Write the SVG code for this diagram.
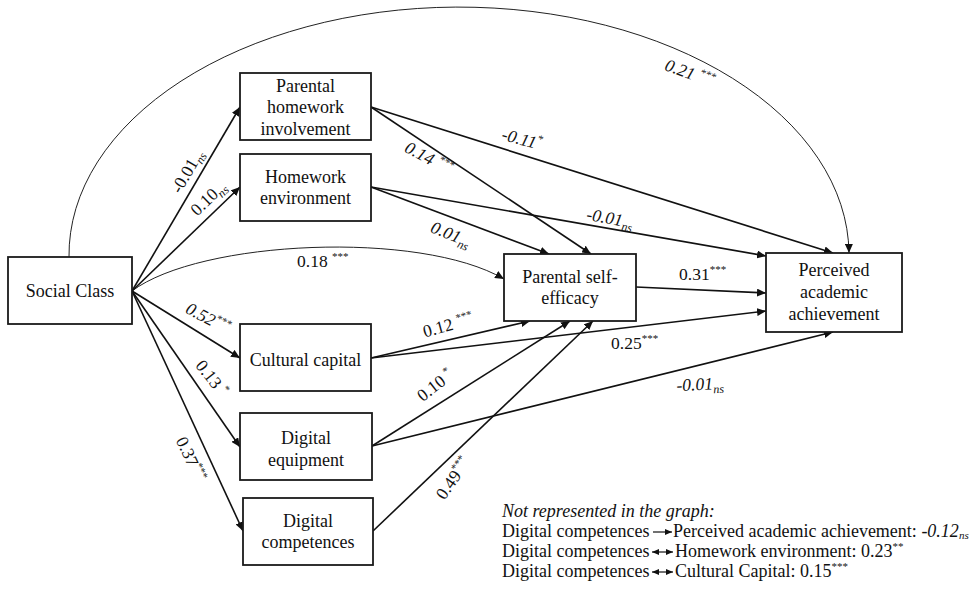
<svg xmlns="http://www.w3.org/2000/svg" width="974" height="593" viewBox="0 0 974 593">
<style>
  .box{fill:#fff;stroke:#1a1a1a;stroke-width:1.8}
  .nt{font-family:"Liberation Serif","Times New Roman",serif;font-size:18px;fill:#111;text-anchor:middle}
  .e{fill:none;stroke:#111;stroke-width:1.6;marker-end:url(#ah)}
  .c{fill:none;stroke:#222;stroke-width:1;marker-end:url(#ah)}
  .lb{font-family:"Liberation Serif","Times New Roman",serif;font-size:17.5px;fill:#111}
  .it{font-style:italic}
  .sup{font-size:11px}
  .sub{font-size:12px;font-style:italic}
  .lsub{font-size:11px;font-style:italic}
  .lg{font-family:"Liberation Serif","Times New Roman",serif;font-size:18px;fill:#111}
  .la{fill:none;stroke:#111;stroke-width:1.2}
</style>
<defs>
  <marker id="ah" markerUnits="userSpaceOnUse" markerWidth="10" markerHeight="8" refX="9" refY="4" orient="auto">
    <path d="M0,0 L9,4 L0,8 z" fill="#111"/>
  </marker>
  <marker id="sa" markerUnits="userSpaceOnUse" markerWidth="8" markerHeight="6" refX="7" refY="3" orient="auto">
    <path d="M0,0 L7,3 L0,6 z" fill="#111"/>
  </marker>
  <marker id="sb" markerUnits="userSpaceOnUse" markerWidth="8" markerHeight="6" refX="0" refY="3" orient="auto">
    <path d="M7,0 L0,3 L7,6 z" fill="#111"/>
  </marker>
</defs>

<g id="connectors">
  <path class="c" d="M69,257 A390,248 0 0 1 849,253"/>
  <path class="c" d="M132,291 C200,240 420,230 504,279"/>
  <line class="e" x1="132" y1="291" x2="240" y2="107"/>
  <line class="e" x1="132" y1="291" x2="240" y2="187"/>
  <line class="e" x1="132" y1="291" x2="240" y2="358"/>
  <line class="e" x1="132" y1="291" x2="240" y2="447"/>
  <line class="e" x1="132" y1="291" x2="243" y2="531"/>
  <line class="e" x1="371" y1="107" x2="591" y2="254"/>
  <line class="e" x1="371" y1="107" x2="833" y2="253"/>
  <line class="e" x1="371" y1="187" x2="549" y2="254"/>
  <line class="e" x1="371" y1="187" x2="766" y2="256"/>
  <line class="e" x1="636" y1="287" x2="766" y2="293"/>
  <line class="e" x1="371" y1="358" x2="530" y2="321"/>
  <line class="e" x1="371" y1="358" x2="766" y2="311"/>
  <line class="e" x1="372" y1="446" x2="570" y2="321"/>
  <line class="e" x1="372" y1="446" x2="833" y2="332"/>
  <line class="e" x1="373" y1="531" x2="593" y2="321"/>
</g>

<g id="edge-labels">
  <text class="lb" text-anchor="middle" transform="translate(187,171) rotate(-60)" y="6">-0.01<tspan class="sub" dy="4">ns</tspan></text>
  <text class="lb" text-anchor="middle" transform="translate(208,198) rotate(-44)" y="6">0.10<tspan class="sub" dy="4">ns</tspan></text>
  <text class="lb" x="297" y="267">0.18 <tspan class="sup" dy="-7">***</tspan></text>
  <text class="lb it" text-anchor="middle" transform="translate(208,318) rotate(28)" y="6">0.52<tspan class="sup" dy="-7">***</tspan></text>
  <text class="lb" text-anchor="middle" transform="translate(212,378) rotate(52)" y="6">0.13 <tspan class="sup" dy="-7">*</tspan></text>
  <text class="lb" text-anchor="middle" transform="translate(191,459) rotate(65)" y="6">0.37<tspan class="sup" dy="-7">***</tspan></text>
  <text class="lb it" text-anchor="middle" transform="translate(429,158) rotate(28)" y="6">0.14 <tspan class="sup" dy="-7">***</tspan></text>
  <text class="lb it" text-anchor="middle" transform="translate(522,139) rotate(15)" y="6">-0.11<tspan class="sup" dy="-7">*</tspan></text>
  <text class="lb it" text-anchor="middle" transform="translate(451,234) rotate(22)" y="6">0.01<tspan class="sub" dy="4">ns</tspan></text>
  <text class="lb it" text-anchor="middle" transform="translate(610,218) rotate(10)" y="6">-0.01<tspan class="sub" dy="4">ns</tspan></text>
  <text class="lb it" text-anchor="middle" transform="translate(690,73) rotate(20)" y="6">0.21 <tspan class="sup" dy="-7">***</tspan></text>
  <text class="lb" x="679" y="280">0.31<tspan class="sup" dy="-7">***</tspan></text>
  <text class="lb" x="611" y="349">0.25<tspan class="sup" dy="-7">***</tspan></text>
  <text class="lb it" text-anchor="middle" transform="translate(700,384) rotate(-3)" y="6">-0.01<tspan class="sub" dy="4">ns</tspan></text>
  <text class="lb" text-anchor="middle" transform="translate(448,325) rotate(-15)" y="6">0.12 <tspan class="sup" dy="-7">***</tspan></text>
  <text class="lb" text-anchor="middle" transform="translate(435,385) rotate(-38)" y="6">0.10 <tspan class="sup" dy="-7">*</tspan></text>
  <text class="lb" text-anchor="middle" transform="translate(453,478) rotate(-55)" y="6">0.49<tspan class="sup" dy="-7">***</tspan></text>
</g>

<g id="social-class">
  <rect class="box" x="8" y="257" width="124" height="67"/>
  <text class="nt" x="70" y="297">Social Class</text>
</g>
<g id="parental-homework-involvement">
  <rect class="box" x="240" y="73" width="131" height="67"/>
  <text class="nt" x="305.5" y="92">Parental</text>
  <text class="nt" x="305.5" y="113">homework</text>
  <text class="nt" x="305.5" y="135">involvement</text>
</g>
<g id="homework-environment">
  <rect class="box" x="240" y="154" width="131" height="67"/>
  <text class="nt" x="305.5" y="183">Homework</text>
  <text class="nt" x="305.5" y="204">environment</text>
</g>
<g id="parental-self-efficacy">
  <rect class="box" x="504" y="254" width="132" height="67"/>
  <text class="nt" x="570" y="283">Parental self-</text>
  <text class="nt" x="570" y="304">efficacy</text>
</g>
<g id="perceived-academic-achievement">
  <rect class="box" x="766" y="253" width="136" height="79"/>
  <text class="nt" x="834" y="276">Perceived</text>
  <text class="nt" x="834" y="298">academic</text>
  <text class="nt" x="834" y="320">achievement</text>
</g>
<g id="cultural-capital">
  <rect class="box" x="240" y="324" width="131" height="67"/>
  <text class="nt" x="305.5" y="366">Cultural capital</text>
</g>
<g id="digital-equipment">
  <rect class="box" x="240" y="413" width="132" height="67"/>
  <text class="nt" x="306" y="444">Digital</text>
  <text class="nt" x="306" y="466">equipment</text>
</g>
<g id="digital-competences">
  <rect class="box" x="243" y="498" width="130" height="67"/>
  <text class="nt" x="308" y="527">Digital</text>
  <text class="nt" x="308" y="548">competences</text>
</g>

<g id="legend">
  <text class="lg it" x="502" y="517">Not represented in the graph:</text>
  <text class="lg" x="502" y="537">Digital competences</text>
  <line class="la" x1="653" y1="532" x2="672" y2="532" marker-end="url(#sa)"/>
  <text class="lg" x="673" y="537">Perceived academic achievement: <tspan class="it">-0.12</tspan><tspan class="lsub" dy="2">ns</tspan></text>
  <text class="lg" x="502" y="557">Digital competences</text>
  <line class="la" x1="652" y1="552" x2="673" y2="552" marker-start="url(#sb)" marker-end="url(#sa)"/>
  <text class="lg" x="675" y="557">Homework environment: 0.23<tspan class="sup" dy="-7">**</tspan></text>
  <text class="lg" x="502" y="577">Digital competences</text>
  <line class="la" x1="652" y1="572" x2="673" y2="572" marker-start="url(#sb)" marker-end="url(#sa)"/>
  <text class="lg" x="675" y="577">Cultural Capital: 0.15<tspan class="sup" dy="-7">***</tspan></text>
</g>
</svg>
